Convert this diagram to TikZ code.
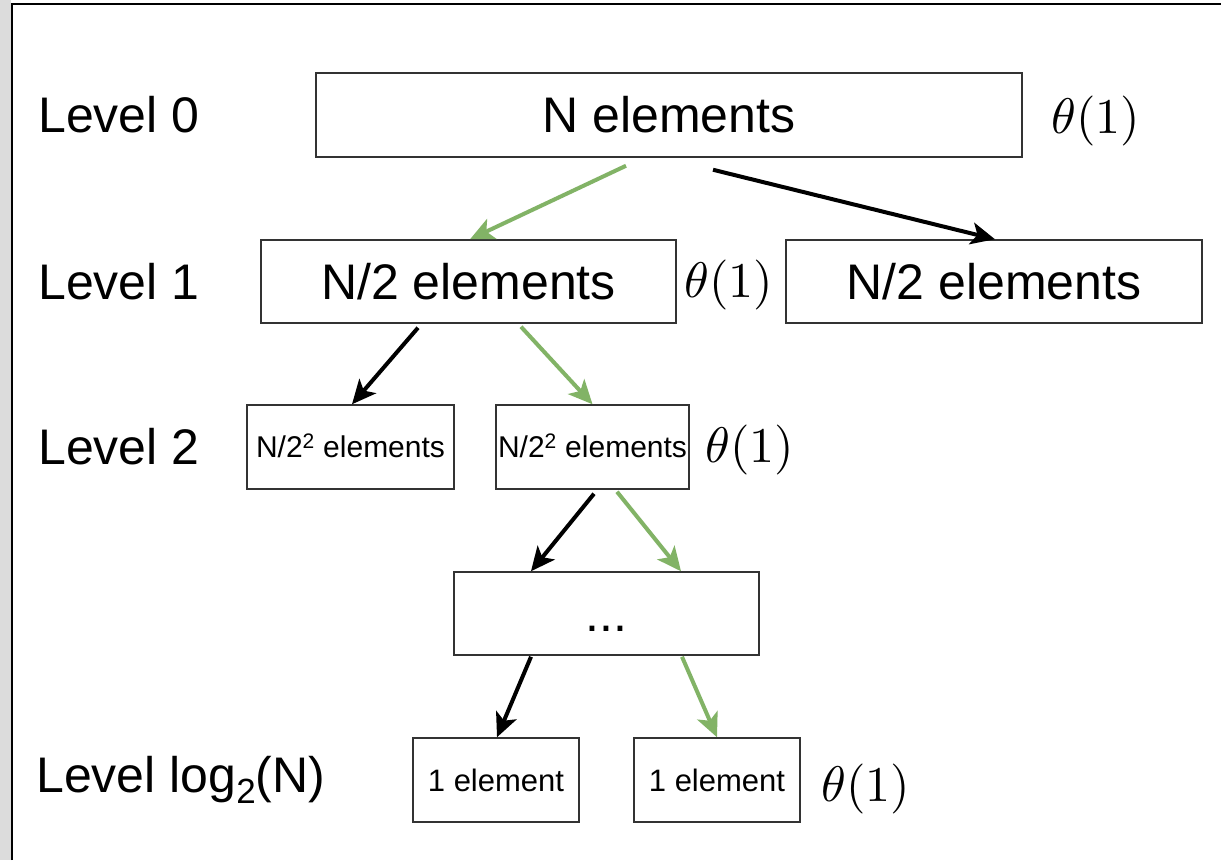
\documentclass[tikz,border=0pt]{standalone}
\usepackage{fontspec}
\setmainfont{Liberation Sans}
\usetikzlibrary{arrows.meta}
\definecolor{dgreen}{HTML}{82B366}
\definecolor{boxline}{HTML}{333333}
\definecolor{barfill}{HTML}{DCDCDC}
\newcommand{\thetaone}{\scalebox{5}{$\theta(1)$}}
\tikzset{
  bigtxt/.style={font=\fontsize{50}{60}\selectfont, text height=45pt, text depth=10pt, inner sep=0pt},
  smalltxt/.style={font=\fontsize{30}{36}\selectfont, text height=27pt, text depth=6pt, inner sep=0pt},
  onetxt/.style={font=\fontsize{31}{37}\selectfont, text height=28pt, text depth=6pt, inner sep=0pt},
  boxnode/.style={draw=boxline, line width=1.5pt, fill=white},
  leveltxt/.style={bigtxt, anchor=west},
  mathtxt/.style={font=\normalsize, inner sep=0pt, anchor=west},
  blk/.style={line width=4pt, black, -{Stealth[length=24pt,width=22pt,inset=6pt]}},
  grn/.style={line width=4pt, dgreen, -{Stealth[length=24pt,width=22pt,inset=6pt]}},
}
\begin{document}
\begin{tikzpicture}[x=1pt,y=-1pt]
\useasboundingbox (0,0) rectangle (1221,860);
\fill[white] (0,0) rectangle (1221,860);
% window frame
\fill[barfill] (0,0) rectangle (11,860);
\draw[line width=2pt, black] (12,860) -- (12,4) -- (1221,4);

% level labels
\node[leveltxt] (lv0) at (38,115) {Level 0};
\node[leveltxt] (lv1) at (38,281.5) {Level 1};
\node[leveltxt] (lv2) at (38,447) {Level 2};
\node[leveltxt] (lv3) at (36,775) {Level log\raisebox{-0.22em}{\fontsize{35}{40}\selectfont 2}(N)};

% boxes
\node[boxnode, bigtxt, minimum width=706pt, minimum height=84pt] (top) at (669,115) {N elements};
\node[boxnode, bigtxt, minimum width=415pt, minimum height=83pt] (l1a) at (468.5,281.5) {N/2 elements};
\node[boxnode, bigtxt, minimum width=416pt, minimum height=83pt] (l1b) at (994,281.5) {N/2 elements};
\node[boxnode, smalltxt, minimum width=207pt, minimum height=84pt] (l2a) at (350.5,447) {N/2\textsuperscript{2} elements};
\node[boxnode, smalltxt, minimum width=193pt, minimum height=84pt] (l2b) at (592.5,447) {N/2\textsuperscript{2} elements};
\node[boxnode, bigtxt, minimum width=305pt, minimum height=83pt] (dots) at (606.5,613.5) {...};
\node[boxnode, onetxt, minimum width=166pt, minimum height=84pt] (l3a) at (496,780) {1 element};
\node[boxnode, onetxt, minimum width=166pt, minimum height=84pt] (l3b) at (717,780) {1 element};

% theta labels
\node[mathtxt] (t0) at (1051,121) {\thetaone};
\node[mathtxt] (t1) at (684,285) {\thetaone};
\node[mathtxt] (t2) at (705,450) {\thetaone};
\node[mathtxt] (t3) at (821,789) {\thetaone};

% arrows
\draw[grn] ([xshift=-43pt,yshift=-8pt]top.south) -- ([xshift=1.5pt]l1a.north);
\draw[blk] ([xshift=44pt,yshift=-12pt]top.south) -- ([xshift=1pt]l1b.north);
\draw[blk] ([xshift=-50.5pt,yshift=-4pt]l1a.south) -- ([xshift=1.5pt]l2a.north);
\draw[grn] ([xshift=52.5pt,yshift=-3pt]l1a.south) -- (l2b.north);
\draw[blk] ([xshift=1.5pt,yshift=-4pt]l2b.south) -- ([xshift=-75.5pt]dots.north);
\draw[grn] ([xshift=24.5pt,yshift=-2pt]l2b.south) -- ([xshift=74.5pt]dots.north);
\draw[blk] ([xshift=-75.5pt,yshift=-1pt]dots.south) -- ([xshift=1pt]l3a.north);
\draw[grn] ([xshift=75.5pt,yshift=-1pt]dots.south) -- (l3b.north);
\end{tikzpicture}
\end{document}
